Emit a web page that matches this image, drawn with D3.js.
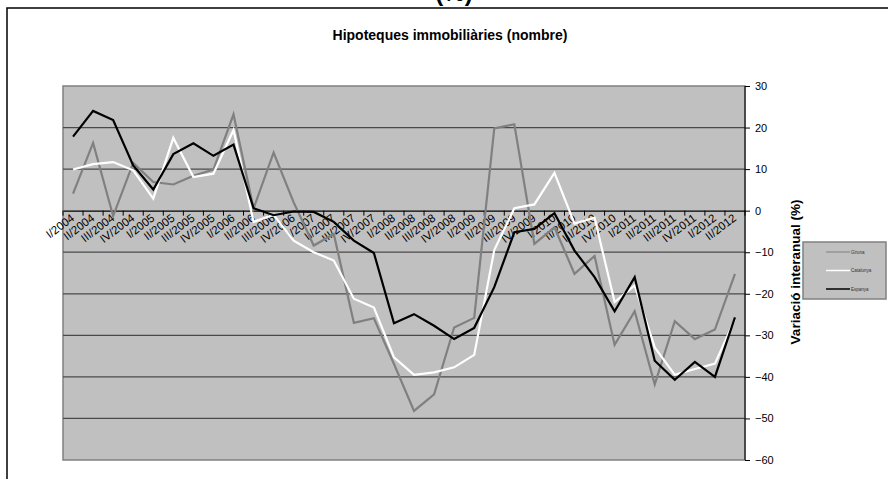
<!DOCTYPE html>
<html><head><meta charset="utf-8">
<script src="https://cdn.jsdelivr.net/npm/d3@7"></script>
<style>body{margin:0;background:#fff;}svg{display:block;font-family:"Liberation Sans",Arial,sans-serif;}</style>
</head><body>
<script>
const categories = ["I/2004","II/2004","III/2004","IV/2004","I/2005","II/2005","III/2005","IV/2005","I/2006","II/2006","III/2006","IV/2006","I/2007","II/2007","III/2007","IV/2007","I/2008","II/2008","III/2008","IV/2008","I/2009","II/2009","III/2009","IV/2009","I/2010","II/2010","III/2010","IV/2010","I/2011","II/2011","III/2011","IV/2011","I/2012","II/2012"];
const girona    = [4.1,16.3,-1.3,11.5,6.9,6.3,8.4,9.9,23.2,0.5,14.0,2.0,-8.4,-5.6,-27.0,-25.9,-36.9,-48.2,-44.2,-28.1,-25.8,19.8,20.8,-8.0,-4.0,-15.2,-10.9,-32.3,-24.2,-41.8,-26.6,-30.9,-28.6,-15.2];
const catalunya = [9.9,11.2,11.7,9.7,2.9,17.5,8.1,8.9,19.4,-2.7,-1.0,-7.2,-10.0,-12.0,-21.2,-23.3,-35.3,-39.5,-38.9,-37.7,-34.7,-9.5,0.6,1.5,9.1,-3.1,-1.7,-22.0,-18.0,-32.9,-39.5,-38.1,-36.8,-26.1];
const espanya   = [17.8,24.0,21.8,10.9,5.1,13.6,16.2,13.2,15.9,0.6,-1.1,-0.2,-0.3,-2.7,-7.2,-10.2,-27.1,-24.9,-27.7,-30.9,-28.2,-18.4,-5.2,-4.4,-0.6,-9.6,-16.0,-24.2,-16.0,-36.1,-40.7,-36.4,-40.0,-25.7];
const yTicks = [30,20,10,0,-10,-20,-30,-40,-50,-60];
const seriesNames = ["Girona","Catalunya","Espanya"];
const seriesColors = ["#808080","#ffffff","#000000"];
const title = "Hipoteques immobiliàries (nombre)";
const yTitle = "Variació interanual (%)";

const W = 888, H = 479;
const svg = d3.select("body").append("svg").attr("width", W).attr("height", H);

// outer frame
svg.append("path").attr("d", `M7,${H} V8 H${W}`).attr("fill","none").attr("stroke","#000").attr("stroke-width",1.5);
svg.append("text").attr("x",454).attr("y",1).attr("text-anchor","middle")
  .attr("font-size",24).attr("font-weight","bold").text("(%)");

const L = 63, R = 745, T = 86, B = 460;
const x = d3.scaleBand().domain(categories).range([L, R]).paddingInner(0).paddingOuter(0);
const y = d3.scaleLinear().domain([-60, 30]).range([B, T]);

svg.append("rect").attr("x",L).attr("y",T).attr("width",R-L).attr("height",B-T)
  .attr("fill","#c0c0c0").attr("stroke","#808080").attr("stroke-width",1.5);

// gridlines
svg.append("g").selectAll("line").data(yTicks.filter(d=>d!==30 && d!==-60 && d!==0)).join("line")
  .attr("x1",L).attr("x2",R).attr("y1",d=>y(d)).attr("y2",d=>y(d))
  .attr("stroke","#4a4a4a").attr("stroke-width",1.2);

// right axis
const yAxis = d3.axisRight(y).tickValues(yTicks).tickSize(5).tickPadding(5).tickFormat(d3.format("d"));
const ya = svg.append("g").attr("transform",`translate(${R},0)`).call(yAxis);
ya.select(".domain").attr("stroke","#000").attr("d",`M0,${T}V${B}`);
ya.selectAll(".tick line").attr("stroke","#000");
ya.selectAll("text").attr("font-size",11).attr("font-family","Liberation Sans, Arial, sans-serif").attr("fill","#000");

// category axis at zero
const xAxis = d3.axisBottom(x).tickSizeInner(0).tickSizeOuter(0);
const xa = svg.append("g").attr("transform",`translate(0,${y(0)})`).call(xAxis);
xa.select(".domain").attr("stroke","#000").attr("stroke-width",1.2);
xa.selectAll(".tick text").attr("font-size",11.5).attr("font-family","Liberation Sans, Arial, sans-serif").attr("fill","#000")
  .attr("text-anchor","end").attr("x",0).attr("y",0).attr("dx",0).attr("dy","0.75em")
  .attr("transform","translate(-3,2) rotate(-37)");
// boundary tick marks
svg.append("g").selectAll("line").data(d3.range(categories.length+1)).join("line")
  .attr("x1",i=>L+i*x.step()).attr("x2",i=>L+i*x.step())
  .attr("y1",y(0)).attr("y2",y(0)+5).attr("stroke","#000");

// series
const line = d3.line().x((d,i)=>x(categories[i])+x.bandwidth()/2).y(d=>y(d));
[girona, catalunya, espanya].forEach((s,k)=>{
  svg.append("path").datum(s).attr("d",line).attr("fill","none")
    .attr("stroke",seriesColors[k]).attr("stroke-width",2.2).attr("stroke-linejoin","miter");
});

// titles
svg.append("text").attr("x",450).attr("y",40).attr("text-anchor","middle")
  .attr("font-size",14).attr("font-weight","bold").text(title);
svg.append("text").attr("transform","translate(800,272) rotate(-90)").attr("text-anchor","middle")
  .attr("font-size",13.5).attr("font-weight","bold").text(yTitle);

// legend
const lg = svg.append("g");
lg.append("rect").attr("x",803).attr("y",242).attr("width",83).attr("height",57)
  .attr("fill","#c0c0c0").attr("stroke","#808080").attr("stroke-width",1.5);
seriesNames.forEach((n,k)=>{
  const yy = 252 + k*18.5;
  lg.append("line").attr("x1",826).attr("x2",850).attr("y1",yy).attr("y2",yy)
    .attr("stroke",seriesColors[k]).attr("stroke-width",k===0?1:1.5);
  lg.append("text").attr("x",851).attr("y",yy+1.5).attr("font-size",4.5).attr("fill","#333").text(n);
});
</script>
</body></html>
